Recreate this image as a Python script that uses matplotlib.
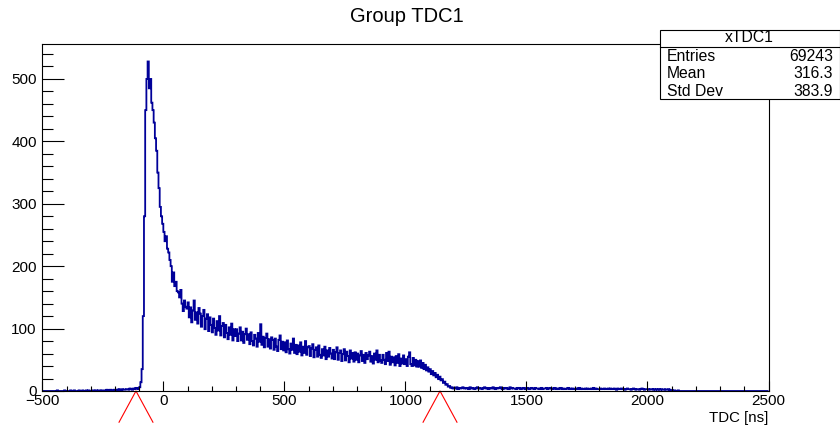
import numpy as np
import matplotlib
matplotlib.use("Agg")
import matplotlib.pyplot as plt
from matplotlib.ticker import MultipleLocator, FuncFormatter

plt.rcParams['font.family'] = ['Liberation Sans', 'DejaVu Sans']

# Histogram binning: 5 ns bins from -500 to 2500 ns
x_min, x_max, bin_width = -500, 2500, 5

# Bin contents, split by region
counts_pre = [
    0, 0, 0, 0, 0, 0, 0, 0, 0, 0,
    0, 0, 1, 0, 0, 0, 0, 0, 1, 0,
    0, 0, 0, 1, 0, 0, 1, 0, 0, 0,
    1, 0, 0, 1, 0, 0, 1, 0, 1, 0,
    0, 1, 1, 0, 1, 0, 1, 1, 0, 1,
    1, 1, 0, 2, 1, 1, 2, 1, 1, 2,
    2, 1, 2, 3, 2, 1, 3, 2, 2, 3,
    3, 2, 4, 3, 2, 4, 3, 5, 4, 3,
]
counts_peak = [
    6, 14, 35, 120, 280, 450, 500, 528, 485, 500,
    462, 450, 430, 405, 385, 350, 325, 295, 280, 268,
    255, 240, 248, 228, 222, 210, 200, 175, 190, 168,
    175, 160, 158, 150, 162, 140, 128, 145, 135, 132,
]
counts_tail = [
    142, 118, 134, 110, 129, 145, 114, 126, 108, 133,
    124, 103, 120, 130, 99, 116, 123, 96, 118, 106,
    94, 116, 101, 90, 112, 97, 120, 89, 104, 109,
    86, 106, 93, 83, 102, 90, 108, 81, 99, 88,
    99, 80, 92, 102, 81, 95, 77, 91, 100, 82,
    91, 75, 94, 80, 73, 90, 84, 71, 93, 79,
    107, 74, 87, 70, 85, 92, 71, 83, 68, 86,
    82, 66, 84, 71, 64, 82, 89, 67, 79, 65,
    78, 62, 81, 67, 60, 76, 66, 84, 61, 74,
    59, 73, 63, 78, 57, 71, 61, 80, 58, 70,
    72, 56, 68, 75, 54, 66, 70, 55, 73, 58,
    53, 67, 57, 71, 51, 65, 55, 69, 60, 52,
    66, 51, 62, 70, 50, 61, 65, 48, 59, 67,
    49, 63, 56, 46, 65, 52, 61, 47, 62, 50,
    60, 46, 57, 64, 48, 58, 45, 61, 51, 57,
    63, 47, 56, 44, 60, 50, 65, 46, 58, 49,
    45, 58, 50, 43, 61, 48, 63, 42, 55, 46,
    54, 41, 56, 45, 59, 40, 52, 44, 57, 43,
    51, 40, 55, 62, 43, 40, 53, 41, 50, 39,
    48, 39, 49, 37, 45, 35, 42, 33, 38, 31,
    35, 27, 32, 25, 29, 22, 26, 19, 23, 17,
    19, 13, 15, 10, 11, 7, 8, 5, 6, 4,
]
counts_post = [
    5, 4, 6, 3, 5, 4, 5, 6, 4, 5,
    4, 5, 3, 6, 4, 5, 4, 3, 5, 6,
    4, 5, 4, 3, 5, 6, 4, 5, 3, 4,
    5, 4, 6, 4, 3, 5, 4, 5, 6, 4,
    3, 5, 4, 5, 4, 3, 6, 4, 5, 4,
    4, 3, 5, 4, 5, 3, 4, 5, 4, 3,
    5, 4, 3, 4, 5, 4, 3, 5, 4, 4,
    3, 4, 5, 3, 4, 4, 5, 3, 4, 5,
    4, 3, 4, 5, 3, 4, 3, 4, 5, 3,
    4, 3, 3, 4, 5, 3, 4, 3, 4, 3,
    3, 4, 3, 5, 3, 4, 3, 3, 4, 3,
    4, 3, 3, 4, 3, 5, 3, 4, 3, 3,
    3, 4, 3, 3, 4, 3, 3, 4, 3, 4,
    3, 3, 4, 3, 2, 4, 3, 3, 4, 3,
    3, 2, 3, 4, 3, 3, 2, 3, 4, 3,
    2, 3, 3, 2, 3, 4, 3, 2, 3, 3,
    3, 2, 3, 3, 2, 3, 2, 3, 2, 3,
    2, 3, 2, 2, 3, 2, 2, 3, 2, 1,
    1, 0, 1, 0, 0, 1, 0, 0, 0, 0,
    0, 0, 0, 0, 0, 0, 0, 0, 0, 0,
    0, 0, 0, 0, 0, 0, 0, 0, 0, 0,
    0, 0, 0, 0, 0, 0, 0, 0, 0, 0,
    0, 0, 0, 0, 0, 0, 0, 0, 0, 0,
    0, 0, 0, 0, 0, 0, 0, 0, 0, 0,
    0, 0, 0, 0, 0, 0, 0, 0, 0, 0,
    0, 0, 0, 0, 0, 0, 0, 0, 0, 0,
]

# Cut-window markers drawn under the axis
marker_x = [-113, 1143]

# Statistics box
stats_name = "xTDC1"
stats_labels = ["Entries", "Mean", "Std Dev"]
stats_values = ["69243", "316.3", "383.9"]

title = "Group TDC1"
xlabel = "TDC [ns]"

counts = np.array(counts_pre + counts_peak + counts_tail + counts_post, dtype=float)
edges = np.arange(x_min, x_max + bin_width, bin_width)

fig = plt.figure(figsize=(8.4, 4.28), dpi=100)
ax = fig.add_axes([42.3 / 840, 37 / 428, (768.5 - 42.3) / 840, (391 - 44) / 428])

ax.stairs(counts, edges, color='#000099', lw=1.3)

ax.set_xlim(x_min, x_max)
ax.set_ylim(0, 556)

ax.xaxis.set_major_locator(MultipleLocator(500))
ax.xaxis.set_minor_locator(MultipleLocator(100))
ax.yaxis.set_major_locator(MultipleLocator(100))
ax.yaxis.set_minor_locator(MultipleLocator(20))

for s in ax.spines.values():
    s.set_linewidth(0.8)

ax.tick_params(axis='x', which='major', direction='in', length=7.2, width=0.8,
               labelsize=11, pad=2, top=False)
ax.tick_params(axis='x', which='minor', direction='in', length=3.6, width=0.8, top=False)
ax.tick_params(axis='y', which='major', direction='in', length=15.8, width=0.8,
               labelsize=11, pad=4, right=False)
ax.tick_params(axis='y', which='minor', direction='in', length=7.9, width=0.8, right=False)

ax.xaxis.set_major_formatter(FuncFormatter(
    lambda v, p: ("\u2212" if v < 0 else "") + f"{abs(int(v))}"))

ax.text(1.0, -0.058, xlabel, transform=ax.transAxes, ha='right', va='top', fontsize=10.8)

# Red V markers below the axis
for mx in marker_x:
    ax.plot([mx - 70, mx, mx + 70], [-50, 0, -50], color='red', lw=0.8, clip_on=False)

fig.text(407 / 840, 1 - 16 / 428, title, ha='center', va='center', fontsize=14.5)

# Stats box
bx0, bx1 = 660 / 840, 839.5 / 840
by0, by1 = 1 - 99 / 428, 1 - 30 / 428
sep = 1 - 46.5 / 428
box = plt.Rectangle((bx0, by0), bx1 - bx0, by1 - by0, transform=fig.transFigure,
                    facecolor='white', edgecolor='black', lw=0.8, zorder=5)
fig.add_artist(box)
fig.add_artist(plt.Line2D([bx0, bx1], [sep, sep], transform=fig.transFigure,
                          color='black', lw=0.8, zorder=6))
fig.text((bx0 + bx1) / 2, 1 - 38 / 428, stats_name, ha='center', va='center',
         fontsize=11.3, zorder=7)
for i, (lab, val) in enumerate(zip(stats_labels, stats_values)):
    yy = 1 - (57 + 17 * i) / 428
    fig.text(667 / 840, yy, lab, ha='left', va='center', fontsize=11.3, zorder=7)
    fig.text(833 / 840, yy, val, ha='right', va='center', fontsize=11.3, zorder=7)

fig.savefig("out.png", dpi=100)
